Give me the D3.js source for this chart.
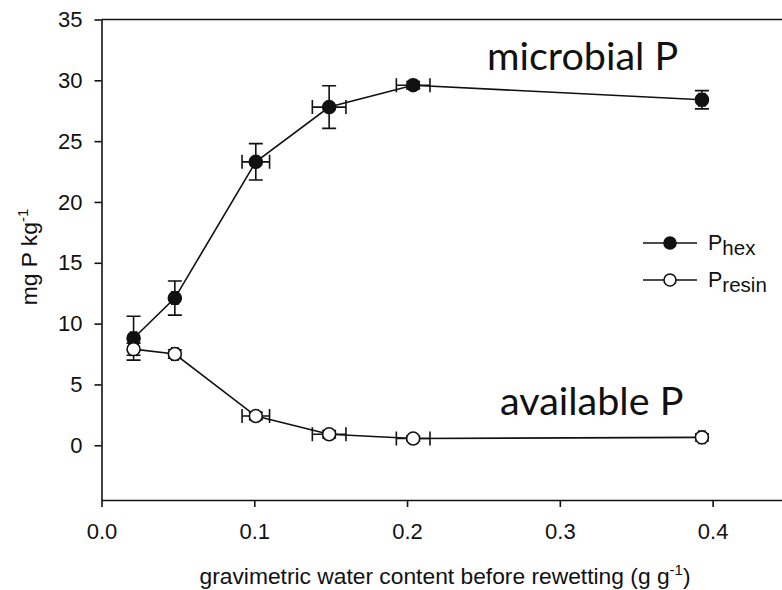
<!DOCTYPE html>
<html>
<head>
<meta charset="utf-8">
<script src="https://cdn.jsdelivr.net/npm/d3@7"></script>
<style>
  body { margin: 0; background: #fff; }
  .tick text { font-family: "Liberation Sans", Arial, sans-serif; font-size: 22px; fill: #111; }
  .axis-title { font-family: "Liberation Sans", Arial, sans-serif; font-size: 22.8px; fill: #111; }
  .note { font-family: Lato, "Open Sans", sans-serif; font-size: 39.5px; fill: #111; }
  .legend-text { font-family: "Liberation Sans", Arial, sans-serif; font-size: 21.5px; fill: #111; }
</style>
</head>
<body>
<div id="chart"></div>
<script>
// data
const waterContent = [0.021, 0.048, 0.101, 0.149, 0.204, 0.393];
const waterErr = [0.002, 0.002, 0.009, 0.011, 0.011, 0.002];
const pHex = [8.8, 12.1, 23.3, 27.8, 29.6, 28.4];
const pHexErr = [1.8, 1.4, 1.5, 1.75, 0.3, 0.75];
const pResin = [7.9, 7.5, 2.4, 0.9, 0.55, 0.65];
const pResinErr = [0.5, 0.35, 0.3, 0.3, 0.2, 0.3];
const xTicks = [0, 0.1, 0.2, 0.3, 0.4];
const yTicks = [0, 5, 10, 15, 20, 25, 30, 35];

// svg size
const width = 782;
const height = 590;

const svg = d3.select("#chart").append("svg")
    .attr("width", width)
    .attr("height", height);

// scales
const x = d3.scaleLinear().domain([0, 0.45]).range([101.5, 789]);
const y = d3.scaleLinear().domain([-4.5, 35]).range([500, 19.5]);

// axes
const leftAxis = d3.axisLeft(y).tickValues(yTicks).tickFormat(d3.format("d"))
    .tickSize(7).tickSizeOuter(0).tickPadding(12);
const bottomAxis = d3.axisBottom(x).tickValues(xTicks).tickFormat(d3.format(".1f"))
    .tickSize(7).tickSizeOuter(0).tickPadding(16);

const yAxis = svg.append("g")
    .attr("transform", `translate(${x(0)},0)`)
    .call(leftAxis);
const xAxis = svg.append("g")
    .attr("transform", `translate(0,${y(-4.5)})`)
    .call(bottomAxis);

svg.selectAll(".domain, .tick line")
    .attr("stroke", "#111")
    .attr("stroke-width", 1.6);

// top and right frame
svg.append("line")
    .attr("x1", x(0)).attr("x2", x(0.45))
    .attr("y1", y(35)).attr("y2", y(35))
    .attr("stroke", "#111").attr("stroke-width", 1.6);
svg.append("line")
    .attr("x1", x(0.45)).attr("x2", x(0.45))
    .attr("y1", y(35)).attr("y2", y(-4.5))
    .attr("stroke", "#111").attr("stroke-width", 1.6);

// axis titles
const xTitle = svg.append("text")
    .attr("class", "axis-title")
    .attr("x", 445).attr("y", 584)
    .attr("text-anchor", "middle");
xTitle.append("tspan").text("gravimetric water content before rewetting (g g");
xTitle.append("tspan").attr("dy", -9).attr("font-size", 15).text("-1");
xTitle.append("tspan").attr("dy", 9).text(")");

const yTitle = svg.append("text")
    .attr("class", "axis-title")
    .attr("transform", `translate(37,257) rotate(-90)`)
    .attr("text-anchor", "middle");
yTitle.append("tspan").text("mg P kg");
yTitle.append("tspan").attr("dy", -9).attr("font-size", 15).text("-1");

// series
const series = [
    {name: "hex", values: pHex, errs: pHexErr, fill: "#111"},
    {name: "resin", values: pResin, errs: pResinErr, fill: "#fff"}
];

const line = d3.line()
    .x(d => x(d.x))
    .y(d => y(d.y));

const cap = 7;

series.forEach(s => {
    const pts = waterContent.map((w, i) => ({x: w, y: s.values[i], ex: waterErr[i], ey: s.errs[i]}));
    const g = svg.append("g");

    g.append("path")
        .datum(pts)
        .attr("d", line)
        .attr("fill", "none")
        .attr("stroke", "#111")
        .attr("stroke-width", 1.6);

    // error bars, vertical and horizontal
    pts.forEach(d => {
        const px = x(d.x), y1 = y(d.y + d.ey), y2 = y(d.y - d.ey);
        g.append("path")
            .attr("d", `M${px},${y1}V${y2}M${px - cap},${y1}H${px + cap}M${px - cap},${y2}H${px + cap}`)
            .attr("stroke", "#111").attr("stroke-width", 1.6).attr("fill", "none");
        const py = y(d.y), x1 = x(d.x - d.ex), x2 = x(d.x + d.ex);
        g.append("path")
            .attr("d", `M${x1},${py}H${x2}M${x1},${py - cap}V${py + cap}M${x2},${py - cap}V${py + cap}`)
            .attr("stroke", "#111").attr("stroke-width", 1.6).attr("fill", "none");
    });

    g.selectAll("circle")
        .data(pts)
        .enter()
        .append("circle")
        .attr("cx", d => x(d.x))
        .attr("cy", d => y(d.y))
        .attr("r", 6.5)
        .attr("fill", s.fill)
        .attr("stroke", "#111")
        .attr("stroke-width", 1.6);
});

// annotations
svg.append("text").attr("class", "note")
    .attr("x", 487).attr("y", 70).text("microbial P");
svg.append("text").attr("class", "note")
    .attr("x", 500).attr("y", 415).text("available P");

// legend
const legend = svg.append("g");
series.forEach((s, i) => {
    const ly = 243 + i * 37;
    legend.append("line")
        .attr("x1", 643).attr("x2", 697)
        .attr("y1", ly).attr("y2", ly)
        .attr("stroke", "#111").attr("stroke-width", 1.6);
    legend.append("circle")
        .attr("cx", 670).attr("cy", ly).attr("r", 6)
        .attr("fill", s.fill).attr("stroke", "#111").attr("stroke-width", 1.6);
    const t = legend.append("text").attr("class", "legend-text")
        .attr("x", 708).attr("y", ly + 7);
    t.append("tspan").text("P");
    t.append("tspan").attr("dy", 5).attr("font-size", 20.5).text(s.name);
});
</script>
</body>
</html>
